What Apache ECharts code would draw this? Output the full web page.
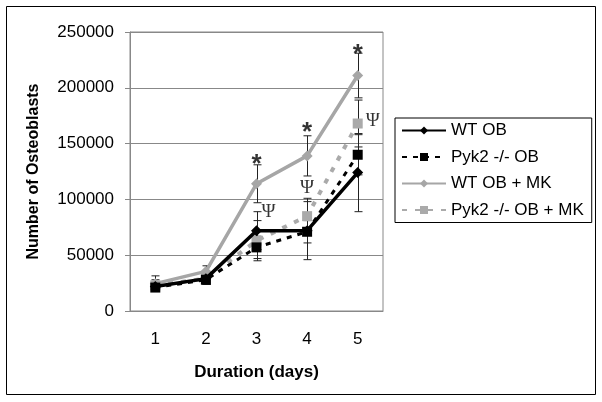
<!DOCTYPE html>
<html><head><meta charset="utf-8">
<script src="https://cdn.jsdelivr.net/npm/echarts@6/dist/echarts.min.js"></script>
<style>html,body{margin:0;padding:0;background:#fff}#c{width:602px;height:402px}</style>
</head><body><div id="c"></div>
<script>
var days = ['1','2','3','4','5'];
var yTicks = [0, 50000, 100000, 150000, 200000, 250000];
var wtOB = [22000, 29000, 72000, 72000, 124000];
var pykOB = [21000, 28000, 57000, 71000, 140000];
var wtOBMK = [24500, 35500, 114000, 139000, 211000];
var pykOBMK = [23000, 29000, 63000, 85000, 168000];
var wtOBErr = [4000, 5000, 17000, 26000, 35000];
var pykOBErr = [3000, 4000, 10000, 10000, 18000];
var wtOBMKErr = [7000, 5000, 17000, 18000, 20000];
var pykOBMKErr = [5000, 5000, 18000, 16000, 21000];
var starDays = ['3','4','5'];
var starValues = [136000, 165000, 235000];
var psiDays = ['3','4','5'];
var psiValues = [89000, 110500, 170000];

var chart = echarts.init(document.getElementById('c'));
function errSeries(vals, errs) {
  return {
    type: 'custom', silent: true, z: 1,
    data: vals.map(function (v, i) { return [i, v - errs[i], v + errs[i]]; }),
    renderItem: function (params, api) {
      var lo = api.coord([api.value(0), api.value(1)]);
      var hi = api.coord([api.value(0), api.value(2)]);
      var x = Math.round(lo[0]) + 0.5, w = 4;
      var st = { stroke: '#222', lineWidth: 1 };
      return { type: 'group', children: [
        { type: 'line', shape: { x1: x, y1: lo[1], x2: x, y2: hi[1] }, style: st },
        { type: 'line', shape: { x1: x - w, y1: lo[1], x2: x + w, y2: lo[1] }, style: st },
        { type: 'line', shape: { x1: x - w, y1: hi[1], x2: x + w, y2: hi[1] }, style: st }
      ]};
    },
    encode: { x: 0, y: [1, 2] }
  };
}
var F = 'Arial, "Liberation Sans", sans-serif';
chart.setOption({
  animation: false,
  backgroundColor: '#fff',
  graphic: [{ type: 'rect', shape: { x: 6.5, y: 6.5, width: 589, height: 388 },
    style: { fill: 'none', stroke: '#000', lineWidth: 1 } }],
  grid: { left: 130, right: 219, top: 32, bottom: 91, show: true, borderColor: '#888', borderWidth: 1 },
  legend: {
    orient: 'vertical', left: 395, top: 118, width: 197,
    borderColor: '#000', borderWidth: 1, padding: [4, 8, 4, 6],
    itemWidth: 44, itemHeight: 10, itemGap: 9.5,
    textStyle: { fontFamily: F, fontSize: 17, color: '#000' },
    data: ['WT OB', 'Pyk2 -/- OB', 'WT OB + MK', 'Pyk2 -/- OB + MK']
  },
  xAxis: {
    type: 'category', data: days, boundaryGap: true,
    name: 'Duration (days)', nameLocation: 'middle', nameGap: 53,
    nameTextStyle: { fontFamily: F, fontSize: 17, fontWeight: 'bold', color: '#000' },
    axisLine: { lineStyle: { color: '#888' } },
    axisTick: { length: 5, lineStyle: { color: '#888' } },
    axisLabel: { fontFamily: F, fontSize: 17, color: '#000', margin: 20 }
  },
  yAxis: {
    type: 'value', min: yTicks[0], max: yTicks[yTicks.length - 1], interval: 50000,
    name: 'Number of Osteoblasts', nameLocation: 'middle', nameGap: 88,
    nameTextStyle: { fontFamily: F, fontSize: 16, fontWeight: 'bold', color: '#000' },
    axisLine: { show: true, lineStyle: { color: '#888' } },
    axisTick: { show: true, length: 5, lineStyle: { color: '#888' } },
    axisLabel: { fontFamily: F, fontSize: 17, color: '#000', margin: 16,
      formatter: function (v) { return String(v); } },
    splitLine: { lineStyle: { color: '#888', width: 1 } }
  },
  series: [
    errSeries(wtOB, wtOBErr), errSeries(pykOB, pykOBErr),
    errSeries(wtOBMK, wtOBMKErr), errSeries(pykOBMK, pykOBMKErr),
    { name: 'Pyk2 -/- OB + MK', type: 'line', data: pykOBMK, z: 2,
      symbol: 'rect', symbolSize: 10,
      lineStyle: { color: '#aaa', width: 4, type: [5, 8] }, itemStyle: { color: '#aaa' } },
    { name: 'WT OB + MK', type: 'line', data: wtOBMK, z: 3,
      symbol: 'diamond', symbolSize: 11,
      lineStyle: { color: '#a6a6a6', width: 3.5 }, itemStyle: { color: '#a6a6a6' } },
    { name: 'Pyk2 -/- OB', type: 'line', data: pykOB, z: 4,
      symbol: 'rect', symbolSize: 10,
      lineStyle: { color: '#000', width: 3, type: [5, 6] }, itemStyle: { color: '#000' } },
    { name: 'WT OB', type: 'line', data: wtOB, z: 5,
      symbol: 'diamond', symbolSize: 11,
      lineStyle: { color: '#000', width: 3.5 }, itemStyle: { color: '#000' } },
    { type: 'scatter', silent: true, symbolSize: 0, z: 6,
      data: starDays.map(function (d, i) { return [d, starValues[i]]; }),
      label: { show: true, position: 'inside', formatter: '*', fontFamily: F,
        fontSize: 26, fontWeight: 'bold', color: '#000', offset: [0, 6] } },
    { type: 'scatter', silent: true, symbolSize: 0, z: 6,
      data: psiDays.map(function (d, i) {
        return { value: [d, psiValues[i]], label: { offset: [[12, 0, 15][i], 0] } };
      }),
      label: { show: true, position: 'inside', formatter: 'Ψ', fontFamily: '"Liberation Serif", "DejaVu Serif", serif',
        fontSize: 19, color: '#000' } }
  ]
});
</script></body></html>
